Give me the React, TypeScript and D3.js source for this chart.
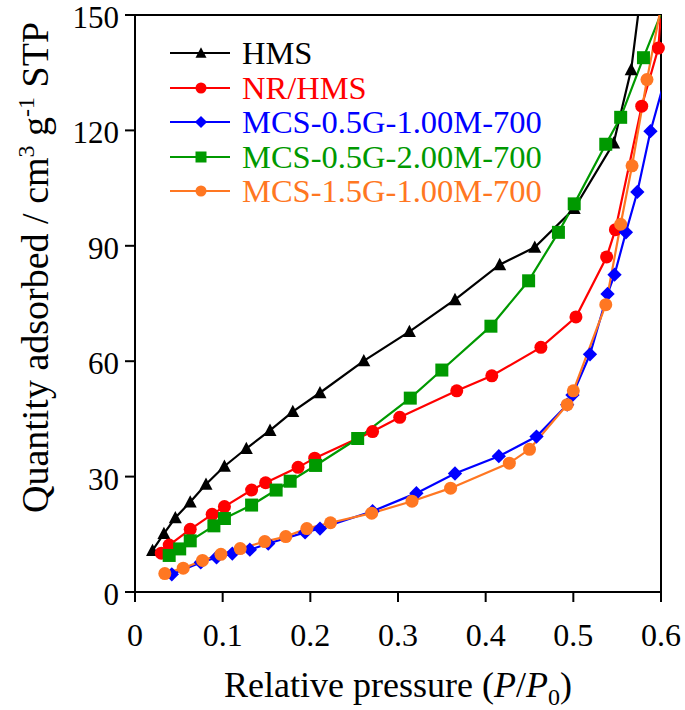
import * as d3 from 'd3';

const W = 685;
const H = 710;
const M = { top: 15, right: 24, bottom: 118, left: 135 };

const xTicks = [0, 0.1, 0.2, 0.3, 0.4, 0.5, 0.6];
const yTicks = [0, 30, 60, 90, 120, 150];

// isotherm readings (P/P0, cm3/g STP)
const hmsP = [0.020, 0.033, 0.046, 0.063, 0.081, 0.102, 0.127, 0.154, 0.180, 0.211, 0.261, 0.313, 0.365, 0.416, 0.456, 0.501, 0.546, 0.566, 0.590];
const hmsQ = [10.8, 15.2, 19.3, 23.4, 28.0, 32.7, 37.3, 42.0, 46.9, 51.8, 60.1, 67.7, 76.0, 85.1, 89.6, 99.7, 116.7, 135.8, 179];

const nrP = [0.030, 0.039, 0.063, 0.088, 0.102, 0.133, 0.149, 0.186, 0.205, 0.271, 0.302, 0.367, 0.407, 0.463, 0.503, 0.538, 0.548, 0.578, 0.597, 0.603];
const nrQ = [10.1, 12.2, 16.3, 20.2, 22.2, 26.5, 28.4, 32.4, 34.8, 41.7, 45.4, 52.3, 56.2, 63.6, 71.5, 87.1, 94.2, 126.3, 141.4, 160];

const mcsAP = [0.042, 0.075, 0.093, 0.111, 0.131, 0.152, 0.194, 0.211, 0.271, 0.321, 0.365, 0.415, 0.458, 0.493, 0.499, 0.519, 0.539, 0.547, 0.560, 0.573, 0.588, 0.605];
const mcsAQ = [4.6, 7.7, 9.0, 10.0, 11.0, 12.6, 15.5, 16.5, 21.0, 25.7, 30.8, 35.3, 40.4, 48.7, 51.2, 61.8, 77.5, 82.5, 93.5, 104.0, 119.8, 133.7];

const mcsBP = [0.039, 0.051, 0.063, 0.090, 0.102, 0.133, 0.161, 0.177, 0.206, 0.254, 0.314, 0.350, 0.406, 0.449, 0.483, 0.501, 0.537, 0.554, 0.580, 0.610];
const mcsBQ = [9.5, 11.2, 13.3, 17.2, 19.1, 22.6, 26.5, 28.8, 32.9, 39.9, 50.4, 57.7, 69.1, 80.9, 93.5, 100.9, 116.4, 123.4, 138.9, 156];

const mcsCP = [0.034, 0.055, 0.077, 0.098, 0.120, 0.148, 0.172, 0.196, 0.223, 0.270, 0.316, 0.360, 0.427, 0.450, 0.493, 0.500, 0.537, 0.554, 0.567, 0.584, 0.605];
const mcsCQ = [4.8, 6.2, 8.2, 9.8, 11.3, 13.1, 14.4, 16.5, 18.0, 20.5, 23.6, 27.0, 33.5, 37.1, 48.7, 52.3, 74.7, 95.6, 110.8, 133.2, 158];

const series = [
  { name: 'HMS', color: '#000000', marker: 'triangle', p: hmsP, q: hmsQ },
  { name: 'NR/HMS', color: '#ff0000', marker: 'circle', p: nrP, q: nrQ },
  { name: 'MCS-0.5G-1.00M-700', color: '#0000ff', marker: 'diamond', p: mcsAP, q: mcsAQ },
  { name: 'MCS-0.5G-2.00M-700', color: '#009900', marker: 'square', p: mcsBP, q: mcsBQ },
  { name: 'MCS-1.5G-1.00M-700', color: '#ff7722', marker: 'circle', p: mcsCP, q: mcsCQ },
];

function markerPath(kind: string, s: number) {
  const h = s / 2;
  if (kind === 'triangle') return `M0,${-h * 1.05}L${h},${h * 0.85}L${-h},${h * 0.85}Z`;
  if (kind === 'diamond') return `M0,${-h * 1.1}L${h * 1.1},0L0,${h * 1.1}L${-h * 1.1},0Z`;
  if (kind === 'square') return `M${-h},${-h}H${h}V${h}H${-h}Z`;
  return d3.symbol(d3.symbolCircle, Math.PI * h * h)() as string;
}

export default function App() {
  const x = d3.scaleLinear().domain([0, 0.6]).range([M.left, W - M.right]);
  const y = d3.scaleLinear().domain([0, 150]).range([H - M.bottom, M.top]);
  const line = d3
    .line<[number, number]>()
    .x((d) => x(d[0]))
    .y((d) => y(d[1]));

  const x0 = x(0), x1 = x(0.6), y0 = y(0), y1 = y(150);
  const font = '"Liberation Serif", "Times New Roman", serif';
  const legendY = [53, 88, 122, 157, 191];

  return (
    <svg
      width={W}
      height={H}
      style={{ position: 'absolute', left: 0, top: 0, background: '#fff' }}
      fontFamily={font}
    >
      <defs>
        <clipPath id="plot">
          <rect x={x0} y={y1} width={x1 - x0} height={y0 - y1} />
        </clipPath>
      </defs>

      {/* frame */}
      <path d={`M${x0},${y0}V${y1}H${x1}V${y0}Z`} fill="none" stroke="#000" strokeWidth={2} />
      {xTicks.map((t) => (
        <g key={'x' + t}>
          <line x1={x(t)} x2={x(t)} y1={y0} y2={y0 + 10} stroke="#000" strokeWidth={2} />
          <text x={x(t)} y={y0 + 54} fontSize={32} textAnchor="middle">
            {t === 0 ? '0' : t.toFixed(1)}
          </text>
        </g>
      ))}
      {yTicks.map((t) => (
        <g key={'y' + t}>
          <line x1={x0 - 10} x2={x0} y1={y(t)} y2={y(t)} stroke="#000" strokeWidth={2} />
          <text x={x0 - 16} y={y(t) + 13} fontSize={31} textAnchor="end">
            {t}
          </text>
        </g>
      ))}

      <text x={(x0 + x1) / 2} y={697} fontSize={36} textAnchor="middle">
        Relative pressure (<tspan fontStyle="italic">P</tspan>/<tspan fontStyle="italic">P</tspan>
        <tspan fontSize={24} dy={8}>0</tspan>
        <tspan dy={-8}>)</tspan>
      </text>
      <text transform={`translate(48,${(y0 + y1) / 2 - 36}) rotate(-90)`} fontSize={38} textAnchor="middle">
        Quantity adsorbed / cm<tspan fontSize={24} dy={-14}>3</tspan>
        <tspan dy={14}> g</tspan>
        <tspan fontSize={24} dy={-14}>-1</tspan>
        <tspan dy={14}> STP</tspan>
      </text>

      {/* curves */}
      <g clipPath="url(#plot)">
        {series.map((s) => (
          <path
            key={s.name}
            d={line(s.p.map((p, i) => [p, s.q[i]] as [number, number])) as string}
            fill="none"
            stroke={s.color}
            strokeWidth={2.2}
          />
        ))}
      </g>
      {series.map((s) => (
        <g key={s.name + 'm'} fill={s.color}>
          {s.p.map((p, i) =>
            p <= 0.6 && s.q[i] <= 150 ? (
              <path key={i} transform={`translate(${x(p)},${y(s.q[i])})`} d={markerPath(s.marker, 13)} />
            ) : null
          )}
        </g>
      ))}

      {/* legend */}
      {series.map((s, i) => (
        <g key={s.name + 'l'} transform={`translate(0,${legendY[i]})`}>
          <line x1={170} x2={230} y1={0} y2={0} stroke={s.color} strokeWidth={2.2} />
          <path transform="translate(201,0)" d={markerPath(s.marker, 11)} fill={s.color} />
          <text x={242} y={11} fontSize={32.5} fill={s.color}>
            {s.name}
          </text>
        </g>
      ))}
    </svg>
  );
}
